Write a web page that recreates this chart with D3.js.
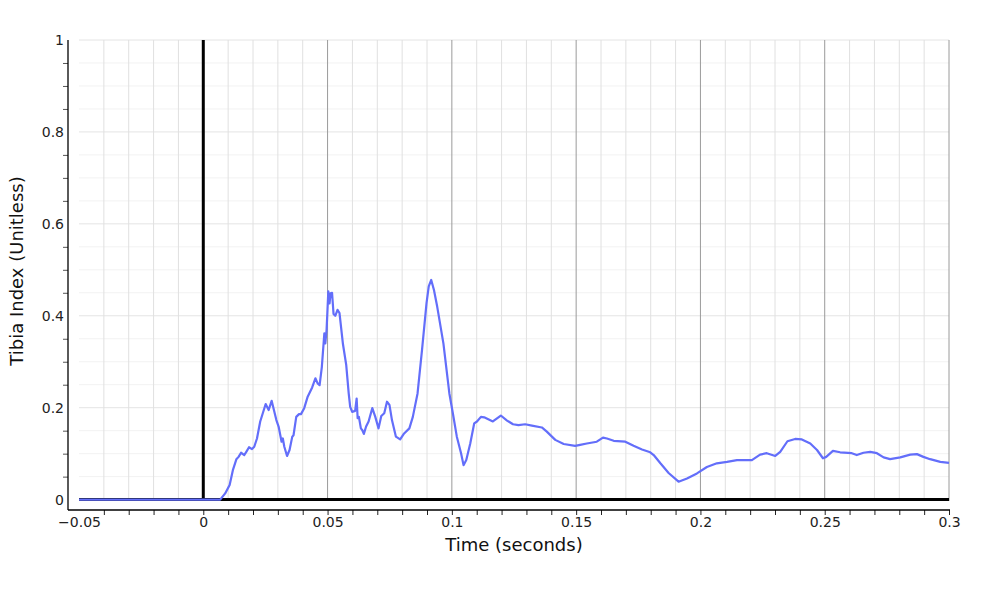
<!DOCTYPE html>
<html>
<head>
<meta charset="utf-8">
<script src="https://cdn.jsdelivr.net/npm/d3@7"></script>
<style>
  body { margin: 0; background: #fff; }
  svg { font-family: "DejaVu Sans", Verdana, sans-serif; }
</style>
</head>
<body>
<svg width="1000" height="600"></svg>
<script>
// time (s) and tibia index values
let times = [
  -0.05, 0.0068, 0.0088, 0.0106, 0.0119, 0.0133, 0.0142, 0.0152, 0.0165, 0.0173,
  0.0184, 0.0196, 0.0205, 0.0216, 0.0229, 0.0251, 0.0263, 0.0275, 0.0294, 0.0303,
  0.0315, 0.032, 0.0326, 0.0337, 0.0347, 0.0358, 0.0363, 0.0374, 0.0385, 0.0393,
  0.0406, 0.042, 0.0438, 0.0451, 0.046, 0.0468, 0.0477, 0.0487, 0.0491, 0.0496,
  0.0503, 0.0508, 0.0512, 0.0518, 0.0524, 0.0531, 0.054, 0.0548, 0.0562, 0.0575,
  0.0585, 0.0591, 0.0599, 0.0611, 0.0617, 0.0621, 0.0626, 0.0634, 0.064, 0.0646,
  0.0655, 0.0665, 0.068, 0.0692, 0.0705, 0.0716, 0.0728, 0.0739, 0.0749, 0.0759,
  0.0775, 0.0792, 0.0808, 0.0829, 0.0843, 0.0862, 0.088, 0.0898, 0.0907, 0.0917,
  0.0928, 0.0941, 0.0966, 0.099, 0.1004, 0.102, 0.1037, 0.1047, 0.1058, 0.1074,
  0.109, 0.1101, 0.1117, 0.113, 0.1165, 0.1197, 0.1222, 0.1246, 0.1268, 0.1295,
  0.1322, 0.1362, 0.1382, 0.1416, 0.145, 0.1496, 0.1516, 0.1543, 0.1583, 0.1608,
  0.1624, 0.1651, 0.1698, 0.1731, 0.1765, 0.1798, 0.1812, 0.1839, 0.1872, 0.1912,
  0.1946, 0.1986, 0.2026, 0.2066, 0.2107, 0.2147, 0.2173, 0.2207, 0.224, 0.2267,
  0.2301, 0.2321, 0.235, 0.2381, 0.2408, 0.2442, 0.2469, 0.2493, 0.2506, 0.2533,
  0.2562, 0.2609, 0.2629, 0.2656, 0.2683, 0.271, 0.2737, 0.2763, 0.2804, 0.2844,
  0.2871, 0.2897, 0.2924, 0.2965, 0.3
]
let tibiaIndex = [
  0, 0, 0.0135, 0.032, 0.064, 0.0876, 0.093, 0.102, 0.097, 0.104,
  0.114, 0.110, 0.115, 0.133, 0.170, 0.208, 0.195, 0.215, 0.173, 0.159,
  0.126, 0.133, 0.115, 0.095, 0.108, 0.137, 0.140, 0.180, 0.186, 0.186,
  0.199, 0.224, 0.244, 0.264, 0.253, 0.249, 0.289, 0.362, 0.340, 0.369,
  0.453, 0.427, 0.449, 0.450, 0.404, 0.400, 0.413, 0.406, 0.338, 0.293,
  0.231, 0.202, 0.191, 0.193, 0.220, 0.177, 0.180, 0.155, 0.151, 0.143,
  0.159, 0.170, 0.199, 0.180, 0.155, 0.182, 0.188, 0.213, 0.206, 0.173,
  0.137, 0.131, 0.144, 0.155, 0.180, 0.231, 0.326, 0.427, 0.464, 0.478,
  0.456, 0.420, 0.340, 0.231, 0.188, 0.137, 0.101, 0.075, 0.086, 0.122,
  0.166, 0.170, 0.180, 0.179, 0.170, 0.183, 0.172, 0.164, 0.162, 0.164,
  0.161, 0.157, 0.148, 0.130, 0.121, 0.117, 0.119, 0.122, 0.126, 0.135,
  0.133, 0.128, 0.126, 0.117, 0.109, 0.103, 0.097, 0.079, 0.058, 0.039,
  0.046, 0.057, 0.071, 0.079, 0.082, 0.086, 0.086, 0.086, 0.098, 0.101,
  0.095, 0.104, 0.127, 0.132, 0.131, 0.122, 0.108, 0.090, 0.093, 0.106,
  0.103, 0.101, 0.097, 0.102, 0.104, 0.101, 0.092, 0.088, 0.092, 0.098,
  0.099, 0.093, 0.088, 0.082, 0.080
]
let xLabelTicks = [-0.05, 0, 0.05, 0.1, 0.15, 0.2, 0.25, 0.3]
let yLabelTicks = [0, 0.2, 0.4, 0.6, 0.8, 1]

var svg = d3.select("svg")

let x = d3.scaleLinear().domain([-0.05, 0.3]).range([79, 949])
let y = d3.scaleLinear().domain([-0.003, 1]).range([501, 40])

let axisLeftX = 68
let axisBottomY = 510

let xMinor = d3.range(-4, 31).map(i => i / 100)
let yMinor = d3.range(0, 21).map(i => i / 20)
let yMinorOnly = yMinor.filter(v => Math.abs(v * 5 - Math.round(v * 5)) > 1e-6)
let fmt = d => d === 0 ? "0" : d3.format("~g")(d)

let grid = svg.append("g")

// horizontal grid
grid.selectAll("line.hminor")
  .data(yMinorOnly)
  .enter().append("line")
  .attr("x1", x(-0.05)).attr("x2", x(0.3))
  .attr("y1", d => y(d)).attr("y2", d => y(d))
  .attr("stroke", "#f2f2f2").attr("stroke-width", 1)

grid.selectAll("line.hmajor")
  .data(yLabelTicks)
  .enter().append("line")
  .attr("x1", x(-0.05)).attr("x2", x(0.3))
  .attr("y1", d => y(d)).attr("y2", d => y(d))
  .attr("stroke", "#e4e4e4").attr("stroke-width", 1)

// vertical grid
grid.selectAll("line.vminor")
  .data(xMinor)
  .enter().append("line")
  .attr("x1", d => x(d)).attr("x2", d => x(d))
  .attr("y1", y(1)).attr("y2", y(-0.003))
  .attr("stroke", d => Math.abs(d * 20 - Math.round(d * 20)) < 1e-6 ? "#9a9a9a" : "#e0e0e0")
  .attr("stroke-width", 1)

// zero lines
grid.append("line")
  .attr("x1", x(0)).attr("x2", x(0))
  .attr("y1", y(1)).attr("y2", y(0) + 1)
  .attr("stroke", "#000").attr("stroke-width", 3)
grid.append("line")
  .attr("x1", x(-0.05)).attr("x2", x(0.3))
  .attr("y1", y(0)).attr("y2", y(0))
  .attr("stroke", "#000").attr("stroke-width", 3)

// trace
let line = d3.line()
  .x((d, i) => x(times[i]))
  .y(d => y(d))

svg.append("path")
  .datum(tibiaIndex)
  .attr("d", line)
  .attr("fill", "none")
  .attr("stroke", "#636efa")
  .attr("stroke-width", 2.2)
  .attr("stroke-linejoin", "round")

// x axis
let xAxisG = svg.append("g")
  .attr("transform", "translate(0," + axisBottomY + ")")
xAxisG.call(d3.axisBottom(x).tickValues(xMinor).tickSize(5).tickFormat(""))
xAxisG.select(".domain").remove()
xAxisG.selectAll(".tick line").attr("stroke", "#222")

let xLabG = svg.append("g")
  .attr("transform", "translate(0," + axisBottomY + ")")
xLabG.call(d3.axisBottom(x).tickValues(xLabelTicks).tickSize(0).tickPadding(7).tickFormat(fmt))
xLabG.select(".domain").remove()
xLabG.selectAll("text")
  .attr("font-size", 14).attr("fill", "#222")
  .attr("font-family", "DejaVu Sans, Verdana, sans-serif")

svg.append("line")
  .attr("x1", axisLeftX).attr("x2", x(0.3) + 1)
  .attr("y1", axisBottomY).attr("y2", axisBottomY)
  .attr("stroke", "#000").attr("stroke-width", 1.3)

// y axis
let yAxisG = svg.append("g")
  .attr("transform", "translate(" + axisLeftX + ",0)")
yAxisG.call(d3.axisLeft(y).tickValues(yMinorOnly).tickSize(5).tickFormat(""))
yAxisG.select(".domain").remove()
yAxisG.selectAll(".tick line").attr("stroke", "#555")

let yLabG = svg.append("g")
  .attr("transform", "translate(" + axisLeftX + ",0)")
yLabG.call(d3.axisLeft(y).tickValues(yLabelTicks).tickSize(0).tickPadding(4).tickFormat(fmt))
yLabG.select(".domain").remove()
yLabG.selectAll("text")
  .attr("font-size", 14).attr("fill", "#222")
  .attr("font-family", "DejaVu Sans, Verdana, sans-serif")

svg.append("line")
  .attr("x1", axisLeftX).attr("x2", axisLeftX)
  .attr("y1", y(1)).attr("y2", axisBottomY)
  .attr("stroke", "#000").attr("stroke-width", 1.3)

// titles
svg.append("text")
  .attr("x", (x(-0.05) + x(0.3)) / 2)
  .attr("y", 551)
  .attr("text-anchor", "middle")
  .attr("font-size", 18)
  .attr("fill", "#111")
  .text("Time (seconds)")

svg.append("text")
  .attr("transform", "translate(23,271) rotate(-90)")
  .attr("text-anchor", "middle")
  .attr("font-size", 18)
  .attr("fill", "#111")
  .text("Tibia Index (Unitless)")
</script>
</body>
</html>
